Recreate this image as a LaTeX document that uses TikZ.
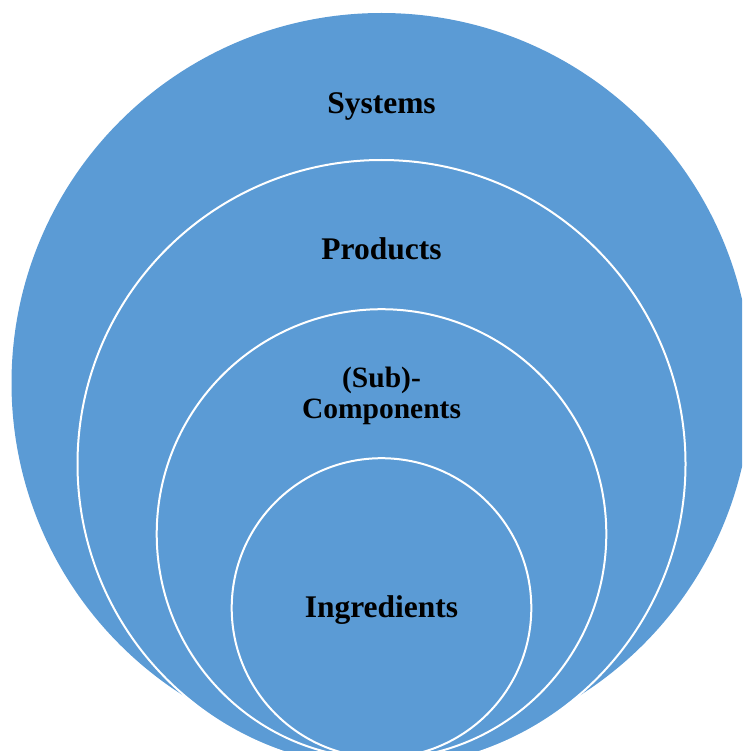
\documentclass[tikz,border=0pt]{standalone}
\usepackage{fontspec}
\setmainfont{Liberation Serif}
\usepackage{tikz}
\definecolor{ringblue}{RGB}{91,155,213}

\begin{document}
\begin{tikzpicture}[x=1pt, y=-1pt,
    ring/.style = {fill=ringblue, draw=white, line width=2pt},% nested circles
    lbl/.style  = {font=\bfseries\fontsize{31.5}{32}\selectfont,
                   inner sep=0pt, anchor=base},% labels of circles
    sublbl/.style = {font=\bfseries\fontsize{29.5}{31.5}\selectfont,
                   align=center, inner sep=0pt},
                        ]
\path[use as bounding box] (0,0) rectangle (742,751);
\clip (0,0) rectangle (742,751);
% outer to inner
\fill[ringblue] (381.5,383) circle[radius=370];
\draw[ring] (381.5,464) circle[radius=304];
\draw[ring] (381.5,534) circle[radius=224.8];
\draw[ring] (381.5,608) circle[radius=149.8];
% labels
\node[lbl] (systems)     at (381.5,114) {Systems};
\node[lbl] (products)    at (381.5,259.5) {Products};
\node[sublbl] (subcomp)  at (381.5,396) {(Sub)-\\Components};
\node[lbl] (ingredients) at (381.5,617) {Ingredients};
\end{tikzpicture}
\end{document}
